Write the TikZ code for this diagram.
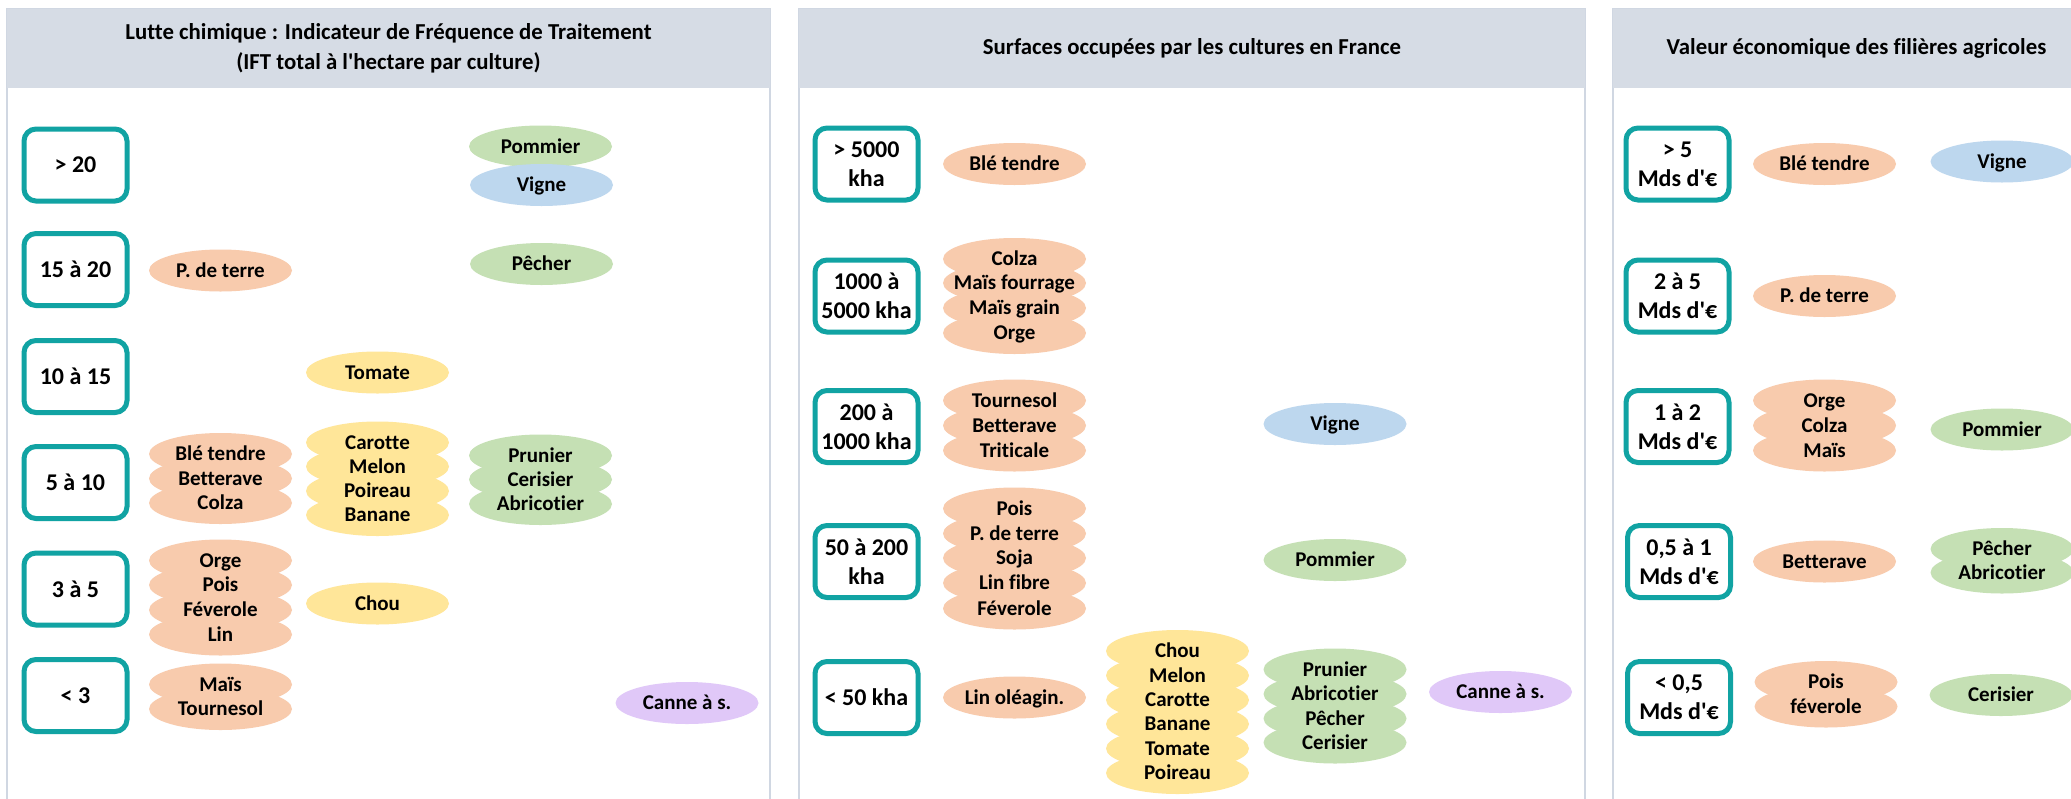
\documentclass[tikz,border=0pt]{standalone}
\usepackage{fontspec}
\newfontfamily\carfont{Carlito}[Ligatures=NoCommon]
\usetikzlibrary{shapes.geometric}
\pgfdeclarelayer{bg}
\pgfsetlayers{bg,main}
\definecolor{tealb}{RGB}{17,163,163}
\definecolor{hdr}{RGB}{214,220,229}
\definecolor{pline}{RGB}{208,215,226}
\definecolor{corange}{RGB}{248,203,173}
\definecolor{cyellow}{RGB}{255,230,153}
\definecolor{cgreen}{RGB}{197,224,180}
\definecolor{cblue}{RGB}{189,215,238}
\definecolor{cpurple}{RGB}{224,200,248}
\tikzset{
 classbox/.style={draw=tealb, line width=2.5pt, rounded corners=6pt, minimum width=51.5pt, minimum height=36pt, inner sep=0pt, align=center, fill=white, font=\carfont\bfseries\fontsize{12}{14.5}\selectfont},
 cropell/.style={ellipse, minimum width=71.5pt, minimum height=21pt, inner sep=0pt, draw=none},
 croptext/.style={inner sep=0pt, text height=6.8pt, text depth=0pt, font=\carfont\bfseries\fontsize{10.5}{12}\selectfont},
 header/.style={fill=hdr, draw=none, inner sep=0pt, align=center, minimum height=39.5pt, font=\carfont\bfseries\fontsize{11.4}{15}\selectfont},
 paneledge/.style={draw=pline, line width=0.8pt}
}
\newcommand\crop[5]{%
 \begin{pgfonlayer}{bg}\node[cropell, fill=#4] (#1) at (#2,#3) {};\end{pgfonlayer}
 \node[croptext] (#1t) at (#1) {#5};}
\begin{document}
\begin{tikzpicture}[x=0.5pt,y=-0.5pt]
\useasboundingbox (0,0) rectangle (2071,798);
% panels
\begin{pgfonlayer}{bg}
\fill[white] (0,0) rectangle (2071,798);
\draw[paneledge] (7,9) rectangle (770,840);
\draw[paneledge] (799,9) rectangle (1585,840);
\draw[paneledge] (1613,9) rectangle (2100,840);
\end{pgfonlayer}
\node[header, minimum width=381.5pt] (h1) at (388.5,48.5) {Lutte chimique : Indicateur de Fréquence de Traitement\\(IFT total à l'hectare par culture)};
\node[header, minimum width=393pt] (h2) at (1192,48.5) {Surfaces occupées par les cultures en France};
\node[header, minimum width=243.5pt] (h3) at (1856.5,48.5) {Valeur économique des filières agricoles};
% panel 1 classes
\node[classbox] (a1) at (75.5,165) {> 20};
\node[classbox] (a2) at (75.5,269.5) {15 à 20};
\node[classbox] (a3) at (75.5,376.5) {10 à 15};
\node[classbox] (a4) at (75.5,482.5) {5 à 10};
\node[classbox] (a5) at (75.5,589) {3 à 5};
\node[classbox] (a6) at (75.5,695.5) {< 3};
% panel 1 crops
\crop{a2c1}{220.5}{270.5}{corange}{P. de terre}
\crop{a4c1}{220.5}{454}{corange}{Blé tendre}
\crop{a4c2}{220.5}{478.5}{corange}{Betterave}
\crop{a4c3}{220.5}{503}{corange}{Colza}
\crop{a5c1}{220.5}{560.5}{corange}{Orge}
\crop{a5c2}{220.5}{585}{corange}{Pois}
\crop{a5c3}{220.5}{610}{corange}{Féverole}
\crop{a5c4}{220.5}{634.5}{corange}{Lin}
\crop{a6c1}{220.5}{684.5}{corange}{Maïs}
\crop{a6c2}{220.5}{709}{corange}{Tournesol}
\crop{a3d1}{377.5}{372.5}{cyellow}{Tomate}
\crop{a4d1}{377.5}{442.5}{cyellow}{Carotte}
\crop{a4d2}{377.5}{466.5}{cyellow}{Melon}
\crop{a4d3}{377.5}{491}{cyellow}{Poireau}
\crop{a4d4}{377.5}{515}{cyellow}{Banane}
\crop{a5d1}{377.5}{603.5}{cyellow}{Chou}
\crop{a1e1}{540.5}{146.5}{cgreen}{Pommier}
\crop{a1e2}{541.5}{185}{cblue}{Vigne}
\crop{a2e1}{541.5}{264}{cgreen}{Pêcher}
\crop{a4e1}{540.5}{455.5}{cgreen}{Prunier}
\crop{a4e2}{540.5}{479.5}{cgreen}{Cerisier}
\crop{a4e3}{540.5}{504}{cgreen}{Abricotier}
\crop{a6f1}{687}{703}{cpurple}{Canne à s.}
% panel 2 classes
\node[classbox] (b1) at (866.5,164) {> 5000\\kha};
\node[classbox] (b2) at (866.5,296) {1000 à\\5000 kha};
\node[classbox] (b3) at (866.5,426.5) {200 à\\1000 kha};
\node[classbox] (b4) at (866.5,561.5) {50 à 200\\kha};
\node[classbox] (b5) at (866.5,697.5) {< 50 kha};
% panel 2 crops
\crop{b1c1}{1014.5}{164}{corange}{Blé tendre}
\crop{b2c1}{1014.5}{259}{corange}{Colza}
\crop{b2c2}{1014.5}{283}{corange}{Maïs fourrage}
\crop{b2c3}{1014.5}{308}{corange}{Maïs grain}
\crop{b2c4}{1014.5}{333}{corange}{Orge}
\crop{b3c1}{1014.5}{400.5}{corange}{Tournesol}
\crop{b3c2}{1014.5}{425.5}{corange}{Betterave}
\crop{b3c3}{1014.5}{450.5}{corange}{Triticale}
\crop{b4c1}{1014.5}{508.5}{corange}{Pois}
\crop{b4c2}{1014.5}{533.5}{corange}{P. de terre}
\crop{b4c3}{1014.5}{558}{corange}{Soja}
\crop{b4c4}{1014.5}{583}{corange}{Lin fibre}
\crop{b4c5}{1014.5}{608.5}{corange}{Féverole}
\crop{b5c1}{1014.5}{697.5}{corange}{Lin oléagin.}
\crop{b5d1}{1177.5}{651}{cyellow}{Chou}
\crop{b5d2}{1177.5}{675.5}{cyellow}{Melon}
\crop{b5d3}{1177.5}{700}{cyellow}{Carotte}
\crop{b5d4}{1177.5}{724}{cyellow}{Banane}
\crop{b5d5}{1177.5}{748.5}{cyellow}{Tomate}
\crop{b5d6}{1177.5}{773}{cyellow}{Poireau}
\crop{b3e1}{1335}{424}{cblue}{Vigne}
\crop{b4e1}{1335}{560}{cgreen}{Pommier}
\crop{b5e1}{1335}{669.5}{cgreen}{Prunier}
\crop{b5e2}{1335}{694}{cgreen}{Abricotier}
\crop{b5e3}{1335}{718.5}{cgreen}{Pêcher}
\crop{b5e4}{1335}{742.5}{cgreen}{Cerisier}
\crop{b5f1}{1500.5}{692}{cpurple}{Canne à s.}
% panel 3 classes
\node[classbox] (c1) at (1677.5,164) {> 5\\Mds d'€};
\node[classbox] (c2) at (1677.5,296) {2 à 5\\Mds d'€};
\node[classbox] (c3) at (1677.5,426.5) {1 à 2\\Mds d'€};
\node[classbox] (c4) at (1679,561.5) {0,5 à 1\\Mds d'€};
\node[classbox] (c5) at (1679,697.5) {< 0,5\\Mds d'€};
% panel 3 crops
\crop{c1c1}{1824.5}{164}{corange}{Blé tendre}
\crop{c2c1}{1824.5}{296}{corange}{P. de terre}
\crop{c3c1}{1824.5}{400.5}{corange}{Orge}
\crop{c3c2}{1824.5}{425.5}{corange}{Colza}
\crop{c3c3}{1824.5}{450.5}{corange}{Maïs}
\crop{c4c1}{1824.5}{561.5}{corange}{Betterave}
\crop{c5c1}{1826}{682}{corange}{Pois}
\crop{c5c2}{1826}{706.5}{corange}{féverole}
\crop{c1e1}{2002}{161.5}{cblue}{Vigne}
\crop{c3e1}{2002}{429.5}{cgreen}{Pommier}
\crop{c4e1}{2002}{549}{cgreen}{Pêcher}
\crop{c4e2}{2002}{572.5}{cgreen}{Abricotier}
\crop{c5e1}{2001}{695}{cgreen}{Cerisier}
\end{tikzpicture}
\end{document}
